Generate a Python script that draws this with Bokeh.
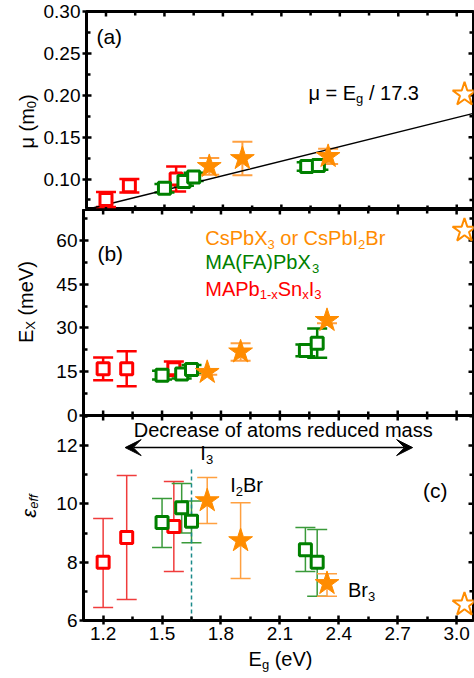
import math
from bokeh.plotting import figure
from bokeh.models import (Range1d, FixedTicker, LinearAxis, Label, Whisker, TeeHead,
                          ColumnDataSource, Arrow, VeeHead, PrintfTickFormatter)
from bokeh.layouts import column, row
from bokeh.embed import file_html
from bokeh.resources import INLINE

FONT = "Liberation Sans"
NB = "\u00a0"

# ---------------- data ----------------
x_start, x_end = 1.1, 3.086
x_ticks = [1.2, 1.5, 1.8, 2.1, 2.4, 2.7, 3.0]
x_minor = [1.35, 1.65, 1.95, 2.25, 2.55, 2.85]

red_eg = [1.20, 1.32, 1.56]
green_eg = [1.50, 1.60, 1.65, 2.23, 2.29]
orange_eg = [1.73, 1.90, 2.34]
open_eg = [3.04]

# (a) reduced mass
mu_range = (0.0636, 0.30)
mu_ticks = [0.10, 0.15, 0.20, 0.25, 0.30]
mu_minor = [0.075, 0.125, 0.175, 0.225, 0.275]
red_mu = [0.0755, 0.092, 0.100]
red_mu_err = [0.009, 0.008, 0.015]
green_mu = [0.089, 0.097, 0.1025, 0.115, 0.116]
green_mu_err = [0.005, 0.005, 0.005, 0.005, 0.005]
orange_mu = [0.115, 0.1245, 0.127]
orange_mu_err = [0.010, 0.020, 0.009]
open_mu = [0.201]
fit_divisor = 17.3

# (b) exciton binding energy
ex_range = (0, 70.6)
ex_ticks = [0, 15, 30, 45, 60]
ex_minor = [7.5, 22.5, 37.5, 52.5, 67.5]
red_ex = [16.0, 16.0, 16.0]
red_ex_err = [3.9, 6.0, 2.5]
green_ex = [13.8, 14.2, 15.8, 22.3, 24.8]
green_ex_err = [1.5, 1.5, 1.5, 2.0, 5.0]
orange_ex = [14.8, 21.8, 32.6]
orange_ex_err = [0.8, 3.0, 1.0]
open_ex = [63.4]

# (c) effective dielectric constant
eps_range = (6, 13.03)
eps_ticks = [6, 8, 10, 12]
eps_minor = [7, 9, 11, 13]
red_eps = [8.0, 8.85, 9.22]
red_eps_lo = [6.45, 6.72, 7.68]
red_eps_hi = [9.5, 10.97, 10.77]
green_eps = [9.36, 9.87, 9.40, 8.43, 8.0]
green_eps_lo = [8.5, 9.0, 8.67, 7.68, 6.83]
green_eps_hi = [10.18, 10.7, 10.1, 9.19, 9.12]
orange_eps = [10.11, 8.74, 7.27]
orange_eps_lo = [9.33, 7.44, 6.83]
orange_eps_hi = [10.9, 10.04, 7.6]
open_eps = [6.55]

i3_line_x = 1.65
i3_line_top = 11.2
arrow_x = (1.312, 2.776)
arrow_y = 11.93

RED, GREEN, ORANGE = "#ff0000", "#008000", "#ff8c00"
RED_E, GREEN_E, ORANGE_E = "#f03c3c", "#3a9a3a", "#ffa040"

# ---------------- text helpers ----------------
CW = {' ': 278, NB: 278, '(': 333, ')': 333, '/': 278, '=': 584, '.': 278, '-': 333,
      'A': 667, 'B': 667, 'C': 722, 'D': 722, 'E': 667, 'F': 611, 'I': 278, 'M': 833,
      'P': 667, 'S': 667, 'V': 667, 'X': 667, 'a': 556, 'b': 556, 'c': 500, 'd': 556,
      'e': 556, 'f': 278, 'g': 556, 'm': 833, 'n': 556, 'o': 556, 'r': 333, 's': 500,
      't': 278, 'u': 556, 'x': 500, 'μ': 576, 'ε': 450}


def tw(s, size):
    return sum(CW.get(c, 556) for c in s) / 1000.0 * size


def rich(p, x, y, pieces, size, color, angle=0.0, xo=0.0, yo=0.0, align="left", style="normal"):
    """Text made of normal / subscript pieces; (x, y) is the vertical middle of the line."""
    sub = 0.65
    pieces = [(t.replace(" ", NB), k) for t, k in pieces]
    widths = [tw(t, size * (sub if k == "s" else 1)) for t, k in pieces]
    total = sum(widths)
    adv = {"left": 0.0, "center": -total / 2, "right": -total}[align]
    for (t, k), w in zip(pieces, widths):
        fs = size * (sub if k == "s" else 1)
        if angle == 0:
            drop = 0.3 * size if k == "s" else 0.0
            dx, dy = adv, -drop
        else:
            drop = 0.25 * size if k == "s" else 0.0
            dx, dy = drop, adv
        p.add_layout(Label(x=x, y=y, x_offset=xo + dx, y_offset=yo + dy, text=t, angle=angle,
                           text_font=FONT, text_font_size=f"{fs:.1f}px", text_color=color,
                           text_align="left", text_baseline="middle", text_font_style=style))
        adv += w


# ---------------- figure helpers ----------------
def add_axis(p, side, ticks, minor, fmt):
    ax = LinearAxis(ticker=FixedTicker(ticks=ticks, minor_ticks=minor))
    ax.axis_line_color = None
    ax.major_tick_line_width = 2.5
    ax.minor_tick_line_width = 2.5
    ax.major_tick_in = 5
    ax.major_tick_out = 4
    ax.minor_tick_in = 4
    ax.minor_tick_out = 0
    ax.formatter = PrintfTickFormatter(format=fmt)
    ax.major_label_text_font = FONT
    ax.major_label_text_font_size = "19px"
    ax.major_label_text_color = "black"
    ax.major_label_standoff = 2
    p.add_layout(ax, side)


def inner_ticks(p, yr, yticks, yminor, bottom, top):
    # tick marks on the right / top / bottom spines (inside only)
    for vals, ln in ((yticks, 5), (yminor, 4)):
        p.ray(x=[x_end] * len(vals), y=vals, length=ln, length_units="screen", angle=180,
              angle_units="deg", line_color="black", line_width=2.5)
    for vals, ln in ((x_ticks, 5), (x_minor, 4)):
        if bottom:
            p.ray(x=vals, y=[yr[0]] * len(vals), length=ln, length_units="screen", angle=90,
                  angle_units="deg", line_color="black", line_width=2.5)
        if top:
            p.ray(x=vals, y=[yr[1]] * len(vals), length=ln, length_units="screen", angle=-90,
                  angle_units="deg", line_color="black", line_width=2.5)


LAB_W = 40
MAIN_W = 474 - LAB_W
BORDER_L = 83 - LAB_W


def make_fig(h, yr, yticks, yminor, yfmt, top_b, bot_b, xlabels):
    p = figure(width=MAIN_W, height=h, x_range=Range1d(x_start, x_end), y_range=Range1d(*yr),
               output_backend="svg", toolbar_location=None, x_axis_location=None,
               y_axis_location=None, min_border_left=BORDER_L, min_border_right=1,
               min_border_top=top_b, min_border_bottom=bot_b)
    p.grid.visible = False
    p.outline_line_color = "black"
    p.outline_line_width = 3
    p.background_fill_color = "white"
    add_axis(p, "left", yticks, yminor, yfmt)
    if xlabels:
        add_axis(p, "below", x_ticks, x_minor, "%.1f")
    inner_ticks(p, yr, yticks, yminor, not xlabels, True)
    return p


def lab_fig(w, h):
    f = figure(width=w, height=h, x_range=Range1d(0, w), y_range=Range1d(0, h),
               output_backend="svg", toolbar_location=None, x_axis_location=None,
               y_axis_location=None, min_border=0)
    f.grid.visible = False
    f.outline_line_color = None
    f.background_fill_color = None
    f.border_fill_color = None
    return f


def errbars(p, xs, lo, hi, color, lw):
    src = ColumnDataSource(dict(x=xs, lo=lo, hi=hi))
    p.add_layout(Whisker(base="x", lower="lo", upper="hi", source=src, dimension="height",
                         line_color=color, line_width=lw,
                         upper_head=TeeHead(size=20, line_color=color, line_width=lw),
                         lower_head=TeeHead(size=20, line_color=color, line_width=lw)))


def markers(p, rx, ry, gx, gy, ox, oy, px_, py_):
    p.scatter(rx, ry, marker="square", size=12, line_color=RED, line_width=3, fill_color="white")
    p.scatter(gx, gy, marker="square", size=12, line_color=GREEN, line_width=3, fill_color="white")
    p.scatter(ox, oy, marker="star", size=25, line_color=ORANGE, line_width=1, fill_color=ORANGE)
    p.scatter(px_, py_, marker="star", size=25, line_color=ORANGE, line_width=2, fill_color="white")


def pm(v, e, s):
    return [a + s * b for a, b in zip(v, e)]


OVER = 12
HA = 209            # frame 11..209
HB = 206 + OVER     # frame 209..415 (+ overlap strip)
HC = 205 + 28       # frame 415..620 + tick labels
HX = 28

# ---------------- panel (a) ----------------
pa = make_fig(HA, mu_range, mu_ticks, mu_minor, "%.2f", 11, 0, False)
pa.border_fill_color = "white"
errbars(pa, red_eg, pm(red_mu, red_mu_err, -1), pm(red_mu, red_mu_err, 1), RED, 2.5)
errbars(pa, green_eg, pm(green_mu, green_mu_err, -1), pm(green_mu, green_mu_err, 1), GREEN, 2.5)
errbars(pa, orange_eg, pm(orange_mu, orange_mu_err, -1), pm(orange_mu, orange_mu_err, 1), ORANGE_E, 2)
fit_x = [x_start, x_end]
pa.line(fit_x, [v / fit_divisor for v in fit_x], line_color="black", line_width=1.5)
markers(pa, red_eg, red_mu, green_eg, green_mu, orange_eg, orange_mu, open_eg, open_mu)
rich(pa, 1.151, 0.2696, [("(a)", "n")], 21, "black")
rich(pa, 2.239, 0.2029, [("μ = E", "n"), ("g", "s"), (" / 17.3", "n")], 20, "black")
la = lab_fig(LAB_W, HA)
rich(la, 26, 93, [("μ (m", "n"), ("0", "s"), (")", "n")], 20, "black",
     angle=math.pi / 2, align="center")

# ---------------- panel (b) ----------------
pb = make_fig(HB, ex_range, ex_ticks, ex_minor, "%d", 0, OVER, False)
pb.border_fill_color = "white"
errbars(pb, red_eg, pm(red_ex, red_ex_err, -1), pm(red_ex, red_ex_err, 1), RED, 2.5)
errbars(pb, green_eg, pm(green_ex, green_ex_err, -1), pm(green_ex, green_ex_err, 1), GREEN, 2.5)
errbars(pb, orange_eg, pm(orange_ex, orange_ex_err, -1), pm(orange_ex, orange_ex_err, 1), ORANGE_E, 2)
markers(pb, red_eg, red_ex, green_eg, green_ex, orange_eg, orange_ex, open_eg, open_ex)
rich(pb, 1.171, 55.5, [("(b)", "n")], 21, "black")
rich(pb, 1.72, 60.7, [("CsPbX", "n"), ("3", "s"), (" or CsPbI", "n"), ("2", "s"), ("Br", "n")], 20, ORANGE)
rich(pb, 1.72, 52.5, [("MA(FA)PbX", "n"), ("3", "s")], 20, GREEN)
rich(pb, 1.72, 43.5, [("MAPb", "n"), ("1-x", "s"), ("Sn", "n"), ("x", "s"), ("I", "n"), ("3", "s")], 20, RED)
lb = lab_fig(LAB_W, HB)
rich(lb, 25, 120, [("E", "n"), ("X", "s"), (" (meV)", "n")], 20, "black",
     angle=math.pi / 2, align="center")

# ---------------- panel (c) ----------------
pc = make_fig(HC, eps_range, eps_ticks, eps_minor, "%d", 0, 28, True)
pc.border_fill_color = None
errbars(pc, red_eg, red_eps_lo, red_eps_hi, RED_E, 1.5)
errbars(pc, green_eg, green_eps_lo, green_eps_hi, GREEN_E, 1.5)
errbars(pc, orange_eg, orange_eps_lo, orange_eps_hi, ORANGE_E, 1.5)
pc.segment([i3_line_x], [eps_range[0]], [i3_line_x], [i3_line_top], line_color="#1a8a8a",
           line_width=1.5, line_dash="4 3")
markers(pc, red_eg, red_eps, green_eg, green_eps, orange_eg, orange_eps, open_eg, open_eps)
pc.add_layout(Arrow(x_start=arrow_x[0], y_start=arrow_y, x_end=arrow_x[1], y_end=arrow_y,
                    line_width=1.5, line_color="black",
                    start=VeeHead(size=16, fill_color="black", line_color="black"),
                    end=VeeHead(size=16, fill_color="black", line_color="black")))
rich(pc, 2.117, 12.52, [("Decrease of atoms reduced mass", "n")], 20, "black", align="center")
rich(pc, 1.695, 11.73, [("I", "n"), ("3", "s")], 20, "black")
rich(pc, 1.847, 10.63, [("I", "n"), ("2", "s"), ("Br", "n")], 20, "black")
rich(pc, 2.447, 7.03, [("Br", "n"), ("3", "s")], 20, "black")
rich(pc, 2.829, 10.46, [("(c)", "n")], 21, "black")
lc = lab_fig(LAB_W, HC)
rich(lc, 28, 130, [("ε", "n"), ("eff", "s")], 20, "black",
     angle=math.pi / 2, align="center", style="italic")

lx = lab_fig(474, HX)
rich(lx, 280, 18, [("E", "n"), ("g", "s"), (" (eV)", "n")], 20, "black", align="center")

layout = column(
    row(la, pa, spacing=0),
    row(lb, pb, spacing=0),
    row(lc, pc, spacing=0, margin=(-OVER, 0, 0, 0)),
    lx,
    spacing=0,
)
open("out.html", "w").write(file_html(layout, INLINE))
